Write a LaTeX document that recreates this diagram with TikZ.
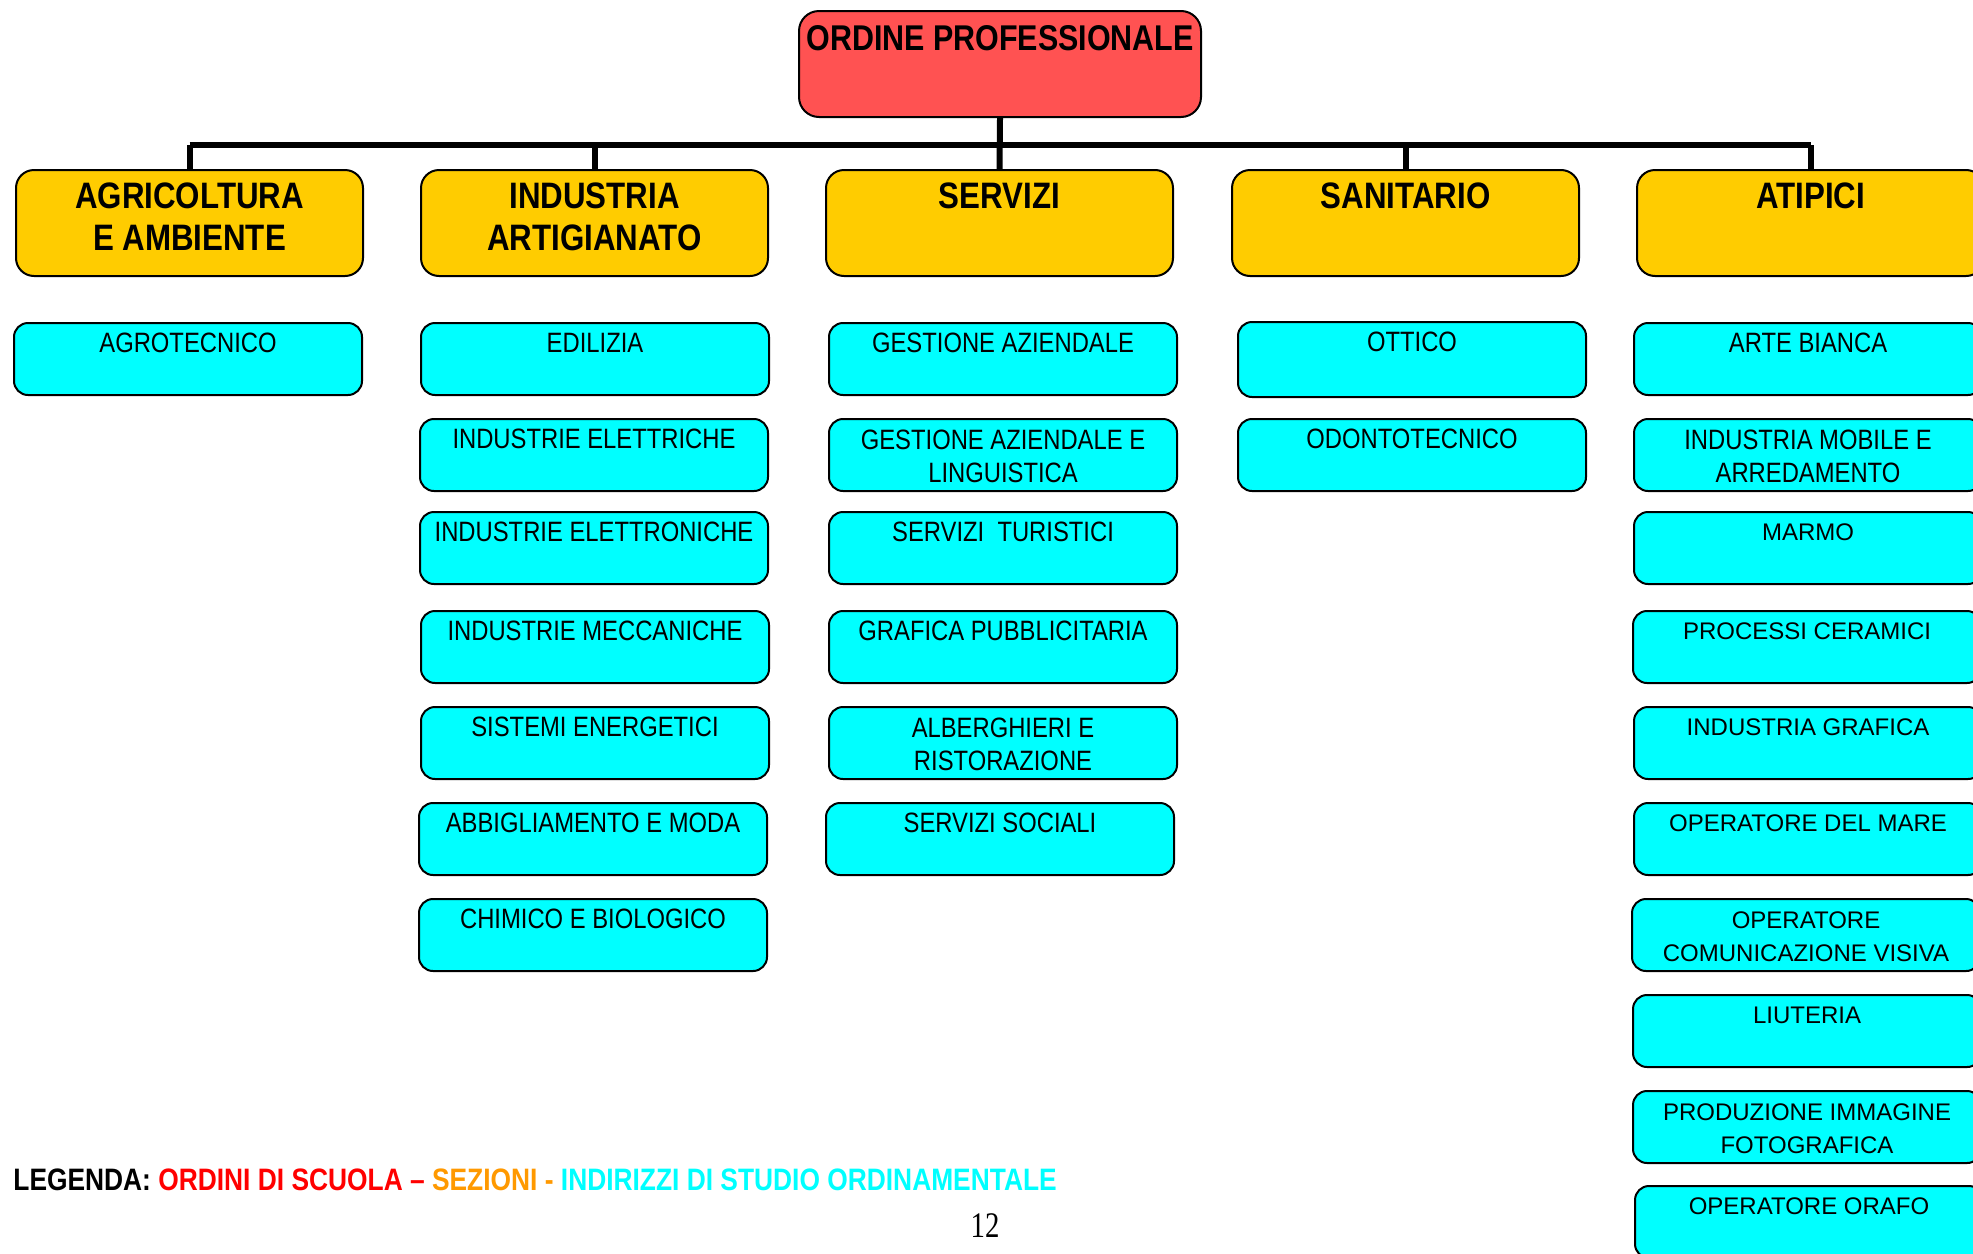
\documentclass[tikz,border=0pt]{standalone}
\usepackage{fontspec}
\setmainfont{Liberation Sans}
\newfontfamily\nar[FakeStretch=0.85]{Liberation Sans}
\newfontfamily\narserif[FakeStretch=0.8]{Liberation Serif}
\usetikzlibrary{calc}
\definecolor{rootc}{RGB}{255,82,82}
\definecolor{secc}{RGB}{255,204,0}
\definecolor{leafc}{RGB}{0,255,255}
\definecolor{legred}{RGB}{255,0,0}
\definecolor{legorange}{RGB}{255,153,0}
\definecolor{legcyan}{RGB}{0,255,255}
\tikzset{
  rootbox/.style={draw=black, line width=1pt, fill=rootc, rounded corners=10pt, minimum width=201pt, minimum height=53pt, inner sep=0pt},
  secbox/.style={draw=black, line width=1pt, fill=secc, rounded corners=9pt, minimum width=173.5pt, minimum height=53pt, inner sep=0pt},
  leafbox/.style={draw=black, line width=1pt, fill=leafc, rounded corners=7pt, minimum width=174pt, minimum height=36pt, inner sep=0pt},
  roottext/.style={font=\nar\bfseries\fontsize{17.9}{21}\selectfont, align=center, inner sep=0pt},
  sectext/.style={font=\nar\bfseries\fontsize{18.4}{21}\selectfont, align=center, inner sep=0pt},
  leaftext/.style={font=\nar\fontsize{14}{16.5}\selectfont, align=center, inner sep=0pt},
  widetext/.style={font=\fontsize{12}{16.5}\selectfont, align=center, inner sep=0pt},
  conn/.style={draw=black, line width=3pt},
}
% name, x-left, y-top, text offset below top (px), text style, text
\newcommand\mkleaf[6]{%
  \node[leafbox, anchor=north west] (#1) at (#2,#3) {};
  \node[#5] (#1t) at ($(#1.north)+(0,#4)$) {#6};
}
\newcommand\mksec[4]{%
  \node[secbox, anchor=north west] (#1) at (#2,169) {};
  \node[sectext] (#1t) at ($(#1.north)+(0,#3)$) {#4};
}
\begin{document}
\begin{tikzpicture}[x=0.5pt, y=-0.5pt]
\useasboundingbox (0,0) rectangle (1973,1253);
\fill[white] (0,0) rectangle (1973,1253);
\clip (0,0) rectangle (1973,1253);

% root
\node[rootbox, anchor=north west] (root) at (798,10) {};
\node[roottext] (roott) at ($(root.north)+(0,28)$) {ORDINE PROFESSIONALE};

% sections
\mksec{agri}{15}{48}{AGRICOLTURA\\E AMBIENTE}
\mksec{ind}{420}{48}{INDUSTRIA\\ARTIGIANATO}
\mksec{serv}{825}{27}{SERVIZI}
\mksec{san}{1231}{27}{SANITARIO}
\mksec{atip}{1636}{27}{ATIPICI}

% connectors
\coordinate (busL) at (189,145);
\coordinate (busR) at (1810,145);
\draw[conn] (busL -| agri.north) -- (busR -| atip.north);
\draw[conn] (root.south) -- (serv.north);
\foreach \s in {agri,ind,san,atip} {
  \draw[conn] (busL -| \s.north) -- (\s.north);
}

% column 1
\mkleaf{agro}{13}{322}{21}{leaftext}{AGROTECNICO}

% column 2
\mkleaf{edil}{420}{322}{21}{leaftext}{EDILIZIA}
\mkleaf{elettr}{419}{418}{21}{leaftext}{INDUSTRIE ELETTRICHE}
\mkleaf{elettron}{419}{511}{21}{leaftext}{INDUSTRIE ELETTRONICHE}
\mkleaf{mecc}{420}{610}{21}{leaftext}{INDUSTRIE MECCANICHE}
\mkleaf{energ}{420}{706}{21}{leaftext}{SISTEMI ENERGETICI}
\mkleaf{moda}{418}{802}{21}{leaftext}{ABBIGLIAMENTO E MODA}
\mkleaf{chim}{418}{898}{21}{leaftext}{CHIMICO E BIOLOGICO}

% column 3
\mkleaf{gest}{828}{322}{21}{leaftext}{GESTIONE AZIENDALE}
\mkleaf{gestl}{828}{418}{38.5}{leaftext}{GESTIONE AZIENDALE E\\LINGUISTICA}
\mkleaf{tur}{828}{511}{21}{leaftext}{SERVIZI~~TURISTICI}
\mkleaf{graf}{828}{610}{21}{leaftext}{GRAFICA PUBBLICITARIA}
\mkleaf{alb}{828}{706}{38.5}{leaftext}{ALBERGHIERI E\\RISTORAZIONE}
\mkleaf{soc}{825}{802}{21}{leaftext}{SERVIZI SOCIALI}

% column 4
\node[leafbox, anchor=north west, minimum height=37.5pt] (ott) at (1237,321) {};
\node[leaftext] (ottt) at ($(ott.north)+(0,21)$) {OTTICO};
\mkleaf{odon}{1237}{418}{21}{leaftext}{ODONTOTECNICO}

% column 5
\mkleaf{arte}{1633}{322}{21}{leaftext}{ARTE BIANCA}
\mkleaf{mob}{1633}{418}{38.5}{leaftext}{INDUSTRIA MOBILE E\\ARREDAMENTO}
\mkleaf{marmo}{1633}{511}{21}{widetext}{MARMO}
\mkleaf{cer}{1632}{610}{21}{widetext}{PROCESSI CERAMICI}
\mkleaf{igraf}{1633}{706}{21}{widetext}{INDUSTRIA GRAFICA}
\mkleaf{mare}{1633}{802}{21}{widetext}{OPERATORE DEL MARE}
\mkleaf{com}{1631}{898}{38.5}{widetext}{OPERATORE\\COMUNICAZIONE VISIVA}
\mkleaf{liut}{1632}{994}{21}{widetext}{LIUTERIA}
\mkleaf{foto}{1632}{1090}{38.5}{widetext}{PRODUZIONE IMMAGINE\\FOTOGRAFICA}
\mkleaf{orafo}{1634}{1185}{21}{widetext}{OPERATORE ORAFO}

% legend
\node[anchor=base west, inner sep=0pt, font=\nar\bfseries\fontsize{15.5}{18}\selectfont] (legend) at (13,1190)
  {LEGENDA: \textcolor{legred}{ORDINI DI SCUOLA –} \textcolor{legorange}{SEZIONI -} \textcolor{legcyan}{INDIRIZZI DI STUDIO ORDINAMENTALE}};
\node[anchor=base, inner sep=0pt, font=\narserif\fontsize{18}{20}\selectfont] (pagenum) at (985,1237) {12};
\end{tikzpicture}
\end{document}
